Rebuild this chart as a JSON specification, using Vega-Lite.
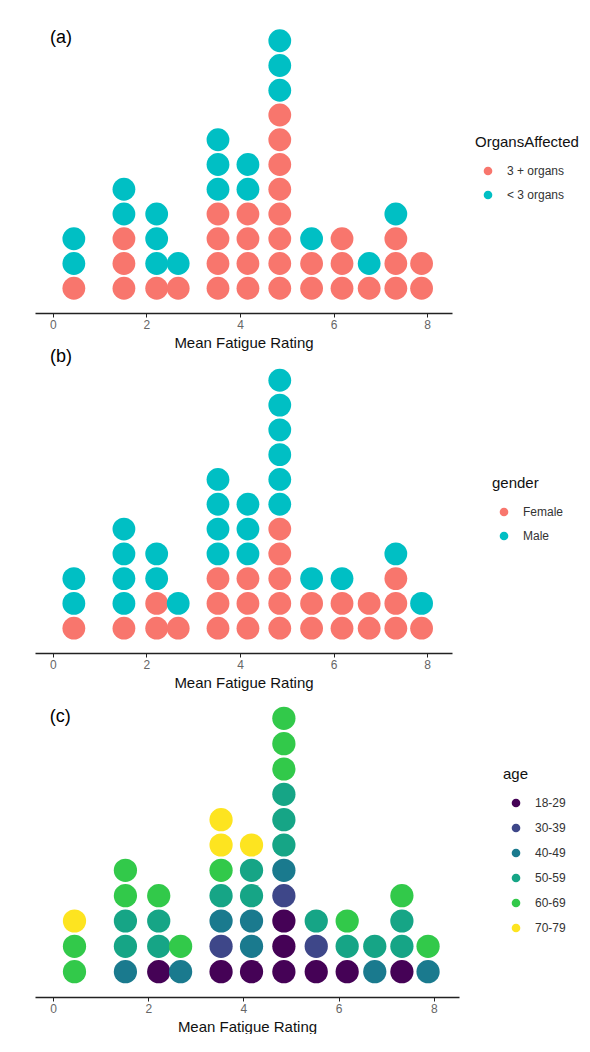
{
  "$schema": "https://vega.github.io/schema/vega-lite/v6.json",
  "padding": {"left": 35, "top": 16, "right": 0, "bottom": 0},
  "background": "white",
  "bounds": "flush",
  "spacing": 40,
  "data": {"values": [
    {"r": 0.45, "o": "3 + organs", "g": "Female", "a": "60-69"},
    {"r": 0.45, "o": "< 3 organs", "g": "Male", "a": "60-69"},
    {"r": 0.45, "o": "< 3 organs", "g": "Male", "a": "70-79"},
    {"r": 1.52, "o": "3 + organs", "g": "Female", "a": "40-49"},
    {"r": 1.52, "o": "3 + organs", "g": "Male", "a": "50-59"},
    {"r": 1.52, "o": "3 + organs", "g": "Male", "a": "50-59"},
    {"r": 1.52, "o": "< 3 organs", "g": "Male", "a": "60-69"},
    {"r": 1.52, "o": "< 3 organs", "g": "Male", "a": "60-69"},
    {"r": 2.22, "o": "3 + organs", "g": "Female", "a": "18-29"},
    {"r": 2.22, "o": "< 3 organs", "g": "Female", "a": "50-59"},
    {"r": 2.22, "o": "< 3 organs", "g": "Male", "a": "50-59"},
    {"r": 2.22, "o": "< 3 organs", "g": "Male", "a": "60-69"},
    {"r": 2.68, "o": "3 + organs", "g": "Female", "a": "40-49"},
    {"r": 2.68, "o": "< 3 organs", "g": "Male", "a": "60-69"},
    {"r": 3.53, "o": "3 + organs", "g": "Female", "a": "18-29"},
    {"r": 3.53, "o": "3 + organs", "g": "Female", "a": "30-39"},
    {"r": 3.53, "o": "3 + organs", "g": "Female", "a": "40-49"},
    {"r": 3.53, "o": "3 + organs", "g": "Male", "a": "50-59"},
    {"r": 3.53, "o": "< 3 organs", "g": "Male", "a": "60-69"},
    {"r": 3.53, "o": "< 3 organs", "g": "Male", "a": "70-79"},
    {"r": 3.53, "o": "< 3 organs", "g": "Male", "a": "70-79"},
    {"r": 4.17, "o": "3 + organs", "g": "Female", "a": "18-29"},
    {"r": 4.17, "o": "3 + organs", "g": "Female", "a": "40-49"},
    {"r": 4.17, "o": "3 + organs", "g": "Female", "a": "40-49"},
    {"r": 4.17, "o": "3 + organs", "g": "Male", "a": "50-59"},
    {"r": 4.17, "o": "< 3 organs", "g": "Male", "a": "50-59"},
    {"r": 4.17, "o": "< 3 organs", "g": "Male", "a": "70-79"},
    {"r": 4.85, "o": "3 + organs", "g": "Female", "a": "18-29"},
    {"r": 4.85, "o": "3 + organs", "g": "Female", "a": "18-29"},
    {"r": 4.85, "o": "3 + organs", "g": "Female", "a": "18-29"},
    {"r": 4.85, "o": "3 + organs", "g": "Female", "a": "30-39"},
    {"r": 4.85, "o": "3 + organs", "g": "Female", "a": "40-49"},
    {"r": 4.85, "o": "3 + organs", "g": "Male", "a": "50-59"},
    {"r": 4.85, "o": "3 + organs", "g": "Male", "a": "50-59"},
    {"r": 4.85, "o": "3 + organs", "g": "Male", "a": "50-59"},
    {"r": 4.85, "o": "< 3 organs", "g": "Male", "a": "60-69"},
    {"r": 4.85, "o": "< 3 organs", "g": "Male", "a": "60-69"},
    {"r": 4.85, "o": "< 3 organs", "g": "Male", "a": "60-69"},
    {"r": 5.53, "o": "3 + organs", "g": "Female", "a": "18-29"},
    {"r": 5.53, "o": "3 + organs", "g": "Female", "a": "30-39"},
    {"r": 5.53, "o": "< 3 organs", "g": "Male", "a": "50-59"},
    {"r": 6.18, "o": "3 + organs", "g": "Female", "a": "18-29"},
    {"r": 6.18, "o": "3 + organs", "g": "Female", "a": "50-59"},
    {"r": 6.18, "o": "3 + organs", "g": "Male", "a": "60-69"},
    {"r": 6.76, "o": "3 + organs", "g": "Female", "a": "40-49"},
    {"r": 6.76, "o": "< 3 organs", "g": "Female", "a": "50-59"},
    {"r": 7.33, "o": "3 + organs", "g": "Female", "a": "18-29"},
    {"r": 7.33, "o": "3 + organs", "g": "Female", "a": "50-59"},
    {"r": 7.33, "o": "3 + organs", "g": "Female", "a": "50-59"},
    {"r": 7.33, "o": "< 3 organs", "g": "Male", "a": "60-69"},
    {"r": 7.88, "o": "3 + organs", "g": "Female", "a": "40-49"},
    {"r": 7.88, "o": "3 + organs", "g": "Male", "a": "60-69"}
  ]},
  "vconcat": [
    {
      "width": 417,
      "height": 297,
      "layer": [
        {
          "transform": [{"window": [{"op": "row_number", "as": "k"}], "groupby": ["r"], "sort": [{"field": "o"}]}],
          "mark": {"type": "circle", "size": 520, "opacity": 1},
          "encoding": {
            "x": {"field": "r", "type": "quantitative", "scale": {"domain": [-0.38, 8.53], "nice": false, "zero": false}, "axis": {"values": [0, 2, 4, 6, 8], "title": "Mean Fatigue Rating"}},
            "y": {"field": "k", "type": "quantitative", "scale": {"domain": [0, 12], "nice": false, "zero": false}, "axis": null},
            "color": {"field": "o", "type": "nominal", "scale": {"domain": ["3 + organs", "< 3 organs"], "range": ["#F8766D", "#00BFC4"]}, "legend": {"title": "OrgansAffected", "orient": "none", "legendX": 440, "legendY": 119, "symbolOffset": 7}}
          }
        },
        {
          "data": {"values": [{"t": "(a)"}]},
          "mark": {"type": "text", "align": "left", "baseline": "middle", "fontSize": 18, "color": "black"},
          "encoding": {"x": {"datum": -0.058}, "y": {"datum": 11.11}, "text": {"field": "t"}}
        }
      ]
    },
    {
      "width": 417,
      "height": 300,
      "layer": [
        {
          "transform": [{"window": [{"op": "row_number", "as": "k"}], "groupby": ["r"], "sort": [{"field": "g"}]}],
          "mark": {"type": "circle", "size": 520, "opacity": 1},
          "encoding": {
            "x": {"field": "r", "type": "quantitative", "scale": {"domain": [-0.38, 8.53], "nice": false, "zero": false}, "axis": {"values": [0, 2, 4, 6, 8], "title": "Mean Fatigue Rating"}},
            "y": {"field": "k", "type": "quantitative", "scale": {"domain": [0, 12.1], "nice": false, "zero": false}, "axis": null},
            "color": {"field": "g", "type": "nominal", "scale": {"domain": ["Female", "Male"], "range": ["#F8766D", "#00BFC4"]}, "legend": {"title": "gender", "orient": "none", "legendX": 457, "legendY": 123, "symbolOffset": 6}}
          }
        },
        {
          "data": {"values": [{"t": "(b)"}]},
          "mark": {"type": "text", "align": "left", "baseline": "middle", "fontSize": 18, "color": "black"},
          "encoding": {"x": {"datum": -0.058}, "y": {"datum": 11.94}, "text": {"field": "t"}}
        }
      ]
    },
    {
      "width": 424,
      "height": 304,
      "layer": [
        {
          "transform": [{"window": [{"op": "row_number", "as": "k"}], "groupby": ["r"], "sort": [{"field": "a"}]}],
          "mark": {"type": "circle", "size": 540, "opacity": 1},
          "encoding": {
            "x": {"field": "r", "type": "quantitative", "scale": {"domain": [-0.38, 8.53], "nice": false, "zero": false}, "axis": {"values": [0, 2, 4, 6, 8], "title": "Mean Fatigue Rating"}},
            "y": {"field": "k", "type": "quantitative", "scale": {"domain": [0, 12], "nice": false, "zero": false}, "axis": null},
            "color": {"field": "a", "type": "nominal", "scale": {"domain": ["18-29", "30-39", "40-49", "50-59", "60-69", "70-79"], "range": ["#450256", "#3E4789", "#1A7A8E", "#16A586", "#32C94A", "#FDE420"]}, "legend": {"title": "age", "orient": "none", "legendX": 468, "legendY": 74, "symbolOffset": 7, "rowPadding": 13}}
          }
        },
        {
          "data": {"values": [{"t": "(c)"}]},
          "mark": {"type": "text", "align": "left", "baseline": "middle", "fontSize": 18, "color": "black"},
          "encoding": {"x": {"datum": -0.07}, "y": {"datum": 11.05}, "text": {"field": "t"}}
        }
      ]
    }
  ],
  "resolve": {"scale": {"color": "independent", "x": "independent", "y": "independent"}, "legend": {"color": "independent"}},
  "config": {
    "font": "Liberation Sans",
    "view": {"stroke": null},
    "axis": {
      "grid": false,
      "domainColor": "#222222",
      "domainWidth": 1.5,
      "tickColor": "#222222",
      "tickSize": 4,
      "tickWidth": 1,
      "labelFontSize": 12,
      "labelColor": "#666666",
      "labelPadding": 2,
      "titleFontSize": 15,
      "titleFontWeight": "normal",
      "titleColor": "#111111",
      "titlePadding": 5
    },
    "legend": {
      "padding": 0,
      "titleFontSize": 15,
      "titleFontWeight": "normal",
      "titleColor": "#111111",
      "titlePadding": 15,
      "labelFontSize": 12,
      "labelColor": "#333333",
      "labelOffset": 13,
      "symbolType": "circle",
      "symbolSize": 75,
      "symbolStrokeWidth": 0,
      "rowPadding": 12
    }
  }
}
